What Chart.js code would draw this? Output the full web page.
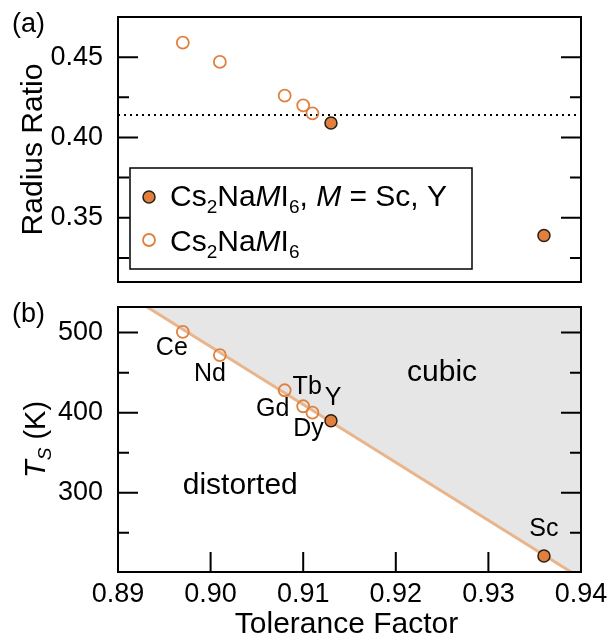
<!DOCTYPE html>
<html>
<head>
<meta charset="utf-8">
<script src="https://cdn.jsdelivr.net/npm/chart.js@4.4.0/dist/chart.umd.min.js"></script>
<style>
  html, body { margin: 0; padding: 0; background: #fff; }
  #wrap { position: relative; width: 613px; height: 641px; }
  #boxA { position: absolute; left: 0; top: 0; width: 613px; height: 290px; }
  #boxB { position: absolute; left: 0; top: 290px; width: 613px; height: 351px; }
</style>
</head>
<body>
<div id="wrap">
  <div id="boxA"><canvas id="chartA" width="613" height="290"></canvas></div>
  <div id="boxB"><canvas id="chartB" width="613" height="351"></canvas></div>
</div>
<script>
// open symbols: Cs2NaMI6 (M = Ce, Nd, Gd, Tb, Dy)
const tolOpen = [0.897, 0.901, 0.908, 0.910, 0.911];
const ratioOpen = [0.459, 0.447, 0.426, 0.420, 0.415];
const tsOpen = [501, 472, 428, 408, 400];
const namesOpen = ['Ce', 'Nd', 'Gd', 'Tb', 'Dy'];

// filled symbols: M = Y, Sc
const tolFilled = [0.913, 0.936];
const ratioFilled = [0.409, 0.339];
const tsFilled = [390, 221];
const namesFilled = ['Y', 'Sc'];

const criticalRatio = 0.414;

// phase boundary line (two ends)
const boundaryTol = [0.889, 0.941];
const boundaryTs = [562, 186];

const xTicks = [0.89, 0.90, 0.91, 0.92, 0.93, 0.94];
const ratioTicks = [0.35, 0.40, 0.45];
const ratioMinor = [0.325, 0.375, 0.425];
const tsTicks = [300, 400, 500];
const tsMinor = [250, 350, 450];

// label placement next to each point, in pixels
const labelOffset = { Ce: [-11, 16], Nd: [-10, 19], Gd: [-12, 19], Tb: [4, -19], Dy: [-4, 16], Y: [2, -23], Sc: [0, -27] };
const regionLabels = [
  { text: 'cubic', x: 0.925, y: 439 },
  { text: 'distorted', x: 0.9032, y: 298 }
];

const FONT = '"Liberation Sans", Arial, Helvetica, sans-serif';
const ORANGE = '#e0803f';
const LINE = '#e9b58c';

Chart.defaults.color = '#000';
Chart.defaults.font.family = FONT;

function pts(xs, ys) {
  return xs.map((x, i) => ({ x, y: ys[i] }));
}

// draws text made of parts: {t, it, sub}
function drawRich(ctx, x, y, parts, size) {
  let cx = x;
  parts.forEach(p => {
    const s = p.sub ? Math.round(size * 0.64) : size;
    ctx.font = (p.it ? 'italic ' : '') + s + 'px ' + FONT;
    ctx.fillText(p.t, cx, y + (p.sub ? size * 0.22 : 0));
    cx += ctx.measureText(p.t).width;
  });
  return cx - x;
}
function richWidth(ctx, parts, size) {
  let w = 0;
  parts.forEach(p => {
    const s = p.sub ? Math.round(size * 0.64) : size;
    ctx.font = (p.it ? 'italic ' : '') + s + 'px ' + FONT;
    w += ctx.measureText(p.t).width;
  });
  return w;
}

function drawFrame(chart, yMajor, yMinor, xMajor) {
  const ctx = chart.ctx;
  const a = chart.chartArea;
  const ys = chart.scales.y, xs = chart.scales.x;
  ctx.save();
  ctx.strokeStyle = '#000';
  ctx.lineWidth = 2;
  ctx.strokeRect(a.left, a.top, a.right - a.left, a.bottom - a.top);
  ctx.beginPath();
  yMajor.forEach(v => {
    const py = ys.getPixelForValue(v);
    ctx.moveTo(a.left, py); ctx.lineTo(a.left + 20, py);
    ctx.moveTo(a.right, py); ctx.lineTo(a.right - 20, py);
  });
  yMinor.forEach(v => {
    const py = ys.getPixelForValue(v);
    ctx.moveTo(a.left, py); ctx.lineTo(a.left + 11, py);
    ctx.moveTo(a.right, py); ctx.lineTo(a.right - 11, py);
  });
  xMajor.forEach(v => {
    const px = xs.getPixelForValue(v);
    ctx.moveTo(px, a.bottom); ctx.lineTo(px, a.bottom - 20);
  });
  ctx.stroke();
  ctx.restore();
}

function yTitle(ctx, cx, cy, parts, size) {
  ctx.save();
  ctx.translate(cx, cy);
  ctx.rotate(-Math.PI / 2);
  ctx.textBaseline = 'alphabetic';
  ctx.textAlign = 'left';
  const w = richWidth(ctx, parts, size);
  drawRich(ctx, -w / 2, 0, parts, size);
  ctx.restore();
}

const panelA = {
  id: 'panelA',
  afterDraw(chart) {
    const ctx = chart.ctx;
    const a = chart.chartArea;
    drawFrame(chart, ratioTicks, ratioMinor, []);
    ctx.save();
    ctx.fillStyle = '#000';
    ctx.font = '27px ' + FONT;
    ctx.textBaseline = 'alphabetic';
    ctx.fillText('(a)', 12, 32);
    yTitle(ctx, 42, (a.top + a.bottom) / 2, [{ t: 'Radius Ratio' }], 30);

    // legend
    const lx = 130, ly = 168, lw = 342, lh = 101;
    ctx.fillStyle = '#fff';
    ctx.fillRect(lx, ly, lw, lh);
    ctx.strokeStyle = '#000';
    ctx.lineWidth = 1.5;
    ctx.strokeRect(lx, ly, lw, lh);
    ctx.beginPath();
    ctx.arc(149, 197, 6, 0, Math.PI * 2);
    ctx.fillStyle = ORANGE; ctx.fill();
    ctx.strokeStyle = '#2b1d12'; ctx.lineWidth = 1.5; ctx.stroke();
    ctx.beginPath();
    ctx.arc(149, 240, 6, 0, Math.PI * 2);
    ctx.strokeStyle = ORANGE; ctx.lineWidth = 1.8; ctx.stroke();
    ctx.fillStyle = '#000';
    const base = [{ t: 'Cs' }, { t: '2', sub: 1 }, { t: 'Na' }, { t: 'M', it: 1 }, { t: 'I' }, { t: '6', sub: 1 }];
    drawRich(ctx, 170, 206, base.concat([{ t: ', ' }, { t: 'M', it: 1 }, { t: ' = Sc, Y' }]), 30);
    drawRich(ctx, 170, 251, base, 30);
    ctx.restore();
  }
};

const panelB = {
  id: 'panelB',
  afterDraw(chart) {
    const ctx = chart.ctx;
    const a = chart.chartArea;
    const xs = chart.scales.x, ys = chart.scales.y;
    drawFrame(chart, tsTicks, tsMinor, xTicks.slice(1, -1));
    ctx.save();
    ctx.fillStyle = '#000';
    ctx.font = '27px ' + FONT;
    ctx.textBaseline = 'alphabetic';
    ctx.fillText('(b)', 12, 32);
    yTitle(ctx, 45, (a.top + a.bottom) / 2,
      [{ t: 'T', it: 1 }, { t: 'S', it: 1, sub: 1 }, { t: ' (K)' }], 29);

    ctx.font = '30px ' + FONT;
    ctx.textAlign = 'center';
    ctx.fillText('Tolerance Factor', (a.left + a.right) / 2 - 3, 343);

    regionLabels.forEach(r => {
      ctx.fillText(r.text, xs.getPixelForValue(r.x), ys.getPixelForValue(r.y));
    });

    ctx.font = '25px ' + FONT;
    ctx.textBaseline = 'middle';
    const names = namesOpen.concat(namesFilled);
    const tx = tolOpen.concat(tolFilled);
    const ty = tsOpen.concat(tsFilled);
    names.forEach((n, i) => {
      const o = labelOffset[n];
      ctx.fillText(n, xs.getPixelForValue(tx[i]) + o[0], ys.getPixelForValue(ty[i]) + o[1]);
    });
    ctx.restore();
  }
};

const openStyle = {
  pointRadius: 6, pointHoverRadius: 6, pointBorderWidth: 1.8,
  pointBorderColor: ORANGE, pointBackgroundColor: 'rgba(0,0,0,0)'
};
const filledStyle = {
  pointRadius: 6, pointHoverRadius: 6, pointBorderWidth: 1.5,
  pointBorderColor: '#2b1d12', pointBackgroundColor: ORANGE
};

const yAxisBase = {
  grid: { display: false, drawTicks: false },
  border: { display: false },
  afterFit(scale) { scale.width = 118; scale.paddingTop = 0; scale.paddingBottom = 0; },
  ticks: { font: { size: 27, family: FONT }, padding: 15, color: '#000' }
};

new Chart(document.getElementById('chartA'), {
  type: 'scatter',
  data: {
    datasets: [
      Object.assign({ data: pts(tolFilled, ratioFilled) }, filledStyle),
      Object.assign({ data: pts(tolOpen, ratioOpen) }, openStyle),
      {
        type: 'line',
        data: pts([xTicks[0], xTicks[xTicks.length - 1]], [criticalRatio, criticalRatio]),
        borderColor: '#000', borderWidth: 2, borderDash: [2, 4],
        pointRadius: 0, fill: false
      }
    ]
  },
  options: {
    responsive: false, animation: false, events: [],
    layout: { padding: { top: 17, right: 32, bottom: 8, left: 0 } },
    plugins: { legend: { display: false }, tooltip: { enabled: false } },
    scales: {
      x: { type: 'linear', min: 0.89, max: 0.94, display: false },
      y: Object.assign({}, yAxisBase, {
        min: 0.31, max: 0.475,
        afterBuildTicks(scale) { scale.ticks = ratioTicks.map(v => ({ value: v })); },
        ticks: Object.assign({}, yAxisBase.ticks, { callback: v => v.toFixed(2) })
      })
    }
  },
  plugins: [panelA]
});

new Chart(document.getElementById('chartB'), {
  type: 'scatter',
  data: {
    datasets: [
      Object.assign({ data: pts(tolFilled, tsFilled) }, filledStyle),
      Object.assign({ data: pts(tolOpen, tsOpen) }, openStyle),
      {
        type: 'line',
        data: pts(boundaryTol, boundaryTs),
        borderColor: LINE, borderWidth: 3,
        backgroundColor: '#e6e6e6',
        pointRadius: 0, fill: 'end'
      }
    ]
  },
  options: {
    responsive: false, animation: false, events: [],
    layout: { padding: { top: 17, right: 32, bottom: 0, left: 0 } },
    plugins: { legend: { display: false }, tooltip: { enabled: false } },
    scales: {
      x: {
        type: 'linear', min: 0.89, max: 0.94,
        grid: { display: false, drawTicks: false },
        border: { display: false },
        afterBuildTicks(scale) { scale.ticks = xTicks.map(v => ({ value: v })); },
        afterFit(scale) { scale.height = 69; scale.paddingLeft = 0; scale.paddingRight = 0; },
        ticks: { font: { size: 27, family: FONT }, padding: 6, color: '#000', maxRotation: 0, callback: v => v.toFixed(2) }
      },
      y: Object.assign({}, yAxisBase, {
        min: 201, max: 532,
        afterBuildTicks(scale) { scale.ticks = tsTicks.map(v => ({ value: v })); },
        ticks: Object.assign({}, yAxisBase.ticks, { callback: v => String(v) })
      })
    }
  },
  plugins: [panelB]
});
</script>
</body>
</html>
